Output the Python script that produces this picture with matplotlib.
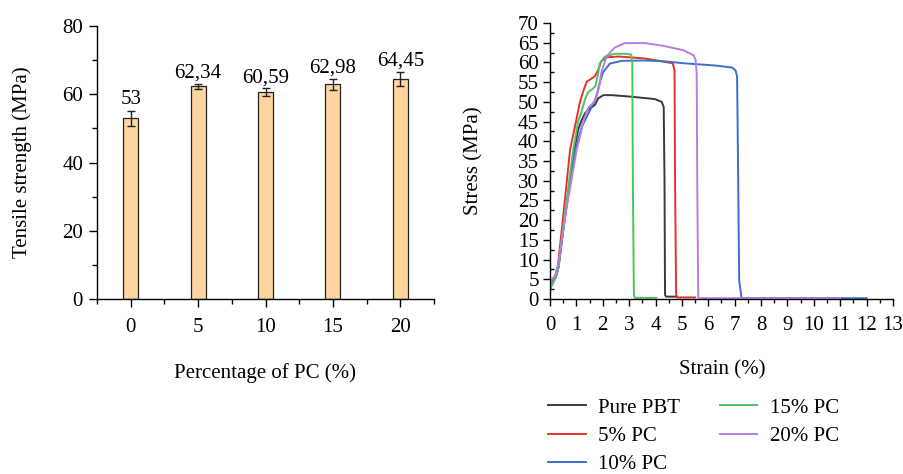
import matplotlib
matplotlib.use("Agg")
import matplotlib.pyplot as plt
from matplotlib.ticker import MultipleLocator

plt.rcParams['font.family'] = ['Liberation Serif', 'DejaVu Serif']

# ---------------- data: left bar chart ----------------
pc_levels = [0, 5, 10, 15, 20]
tensile = [53, 62.34, 60.59, 62.98, 64.45]
tensile_err = [2.2, 0.8, 1.1, 1.6, 2.0]
bar_labels = ["53", "62,34", "60,59", "62,98", "64,45"]

# ---------------- data: right stress-strain curves ----------------
series_names = ["Pure PBT", "5% PC", "10% PC", "15% PC", "20% PC"]
series_colors = ["#3a3a3a", "#e8302a", "#3d6fcc", "#4dc261", "#b77ee0"]

strain_pbt = [0, 0.08, 0.22, 0.32, 0.55, 0.9, 1.07, 1.2, 1.33, 1.45, 1.6, 1.7, 1.83, 2.02, 2.34,
              3.09, 3.98, 4.23, 4.31, 4.34, 4.36, 4.4, 4.8]
stress_pbt = [2.5, 4, 5.5, 8, 20, 37, 43, 45.4, 47.1, 48.1, 48.7, 49.2, 50.9, 51.7, 51.7,
              51.3, 50.7, 50.0, 48.7, 30, 1, 0.6, 0.6]

strain_pc5 = [0, 0.05, 0.2, 0.3, 0.5, 0.76, 1.0, 1.12, 1.25, 1.39, 1.55, 1.7, 1.83, 1.93, 2.15,
              2.6, 3.6, 4.3, 4.65, 4.72, 4.74, 4.78, 4.82, 5.5]
stress_pc5 = [2.0, 4.5, 6.0, 8.5, 21, 37.8, 45.5, 49.5, 52.5, 55.1, 55.8, 56.5, 58.1, 60.2, 61.3,
              61.5, 61.0, 60.2, 59.8, 58, 30, 1, 0.4, 0.4]

strain_pc10 = [0, 0.08, 0.22, 0.32, 0.55, 0.95, 1.2, 1.45, 1.7, 1.8, 1.89, 2.02, 2.27, 2.72, 3.6,
               4.3, 5.05, 6.3, 6.9, 7.03, 7.09, 7.11, 7.17, 7.26, 12.0]
stress_pc10 = [2.5, 4, 5.5, 8, 20, 37.5, 43.6, 47, 50.3, 52.5, 55.0, 57.6, 59.7, 60.4, 60.5,
               60.3, 59.8, 59.2, 58.7, 58.0, 56.5, 45, 4.8, 0.2, 0.2]

strain_pc15 = [0, 0.1, 0.22, 0.32, 0.55, 0.88, 1.07, 1.2, 1.32, 1.45, 1.6, 1.72, 1.8, 1.89, 2.08,
               2.46, 2.84, 3.08, 3.12, 3.14, 3.18, 3.22, 4.04]
stress_pc15 = [2.5, 3.8, 5.5, 8, 21, 37.8, 45.1, 47.6, 50.5, 52.5, 53.2, 54.0, 56.4, 59.8, 61.5,
               62.2, 62.2, 62.0, 60, 30, 1, 0.3, 0.3]

strain_pc20 = [0, 0.05, 0.2, 0.32, 0.6, 1.01, 1.15, 1.26, 1.45, 1.6, 1.7, 1.78, 1.85, 1.96, 2.15,
               2.46, 2.84, 3.6, 4.3, 5.05, 5.45, 5.52, 5.56, 5.58, 5.62, 11.0]
stress_pc20 = [1.5, 4.8, 5.7, 9, 22, 37.8, 41.5, 45, 48.5, 49.5, 50.2, 51.5, 53.5, 57.8, 61.6,
               63.8, 64.9, 64.9, 64.2, 63.1, 61.8, 60.5, 57, 30, 0.2, 0.2]

strains = [strain_pbt, strain_pc5, strain_pc10, strain_pc15, strain_pc20]
stresses = [stress_pbt, stress_pc5, stress_pc10, stress_pc15, stress_pc20]

# ---------------- figure ----------------
W, H = 904, 474
fig = plt.figure(figsize=(W / 100, H / 100), dpi=100)

FS = 15

def fx(px):
    return px / W

def fy(py):
    return 1 - py / H

# left axes
ax1 = fig.add_axes([fx(97), fy(299), fx(434) - fx(97), fy(26) - fy(299)])
ax1.bar(pc_levels, tensile, width=1.1, color="#fdd5a0", edgecolor="#222222", linewidth=0.9,
        zorder=2)
ax1.errorbar(pc_levels, tensile, yerr=tensile_err, fmt="none", ecolor="#222222", elinewidth=1.0,
             capsize=3, capthick=1.0, zorder=3)
for x, v, e, lab in zip(pc_levels, tensile, tensile_err, bar_labels):
    ax1.annotate(lab, (x, v + e), xytext=(0, 1), textcoords="offset points",
                 ha="center", va="bottom", fontsize=FS)
ax1.set_xlim(-2.5, 22.5)
ax1.set_ylim(0, 80)
ax1.xaxis.set_major_locator(MultipleLocator(5))
ax1.xaxis.set_minor_locator(MultipleLocator(2.5))
ax1.yaxis.set_major_locator(MultipleLocator(20))
ax1.yaxis.set_minor_locator(MultipleLocator(10))
for s in ["top", "right"]:
    ax1.spines[s].set_visible(False)
for s in ["left", "bottom"]:
    ax1.spines[s].set_linewidth(1.0)
ax1.tick_params(axis="both", which="major", direction="out", length=6, width=1.0,
                labelsize=FS)
ax1.tick_params(axis="both", which="minor", direction="out", length=3.5, width=1.0)
ax1.tick_params(axis="x", which="major", pad=8)
ax1.tick_params(axis="y", which="major", pad=4)
ax1.set_xlabel("Percentage of PC (%)", fontsize=FS)
ax1.set_ylabel("Tensile strength (MPa)", fontsize=FS)
ax1.xaxis.set_label_coords(0.4985, -0.271)
ax1.xaxis.label.set_va("center")
ax1.yaxis.set_label_coords(-0.2226, 0.5)
ax1.yaxis.label.set_va("center")

# right axes
ax2 = fig.add_axes([fx(550), fy(299), fx(893) - fx(550), fy(23) - fy(299)])
lines = []
for xs, ys, name, col in zip(strains, stresses, series_names, series_colors):
    ln, = ax2.plot(xs, ys, color=col, linewidth=1.4, label=name, solid_joinstyle="round")
    lines.append(ln)
ax2.set_xlim(0, 13)
ax2.set_ylim(0, 70)
ax2.xaxis.set_major_locator(MultipleLocator(1))
ax2.xaxis.set_minor_locator(MultipleLocator(0.5))
ax2.yaxis.set_major_locator(MultipleLocator(5))
ax2.yaxis.set_minor_locator(MultipleLocator(2.5))
for s in ["top", "right"]:
    ax2.spines[s].set_visible(False)
for s in ["left", "bottom"]:
    ax2.spines[s].set_linewidth(1.0)
ax2.tick_params(axis="both", which="major", direction="out", length=5, width=1.0, labelsize=FS)
ax2.tick_params(axis="x", which="minor", direction="out", length=3, width=1.0)
ax2.tick_params(axis="y", which="minor", direction="in", length=3, width=1.0)
ax2.tick_params(axis="x", which="major", pad=7)
ax2.tick_params(axis="y", which="major", pad=3)
ax2.set_xlabel("Strain (%)", fontsize=FS)
ax2.set_ylabel("Stress (MPa)", fontsize=FS)
ax2.xaxis.set_label_coords(0.501, -0.257)
ax2.xaxis.label.set_va("center")
ax2.yaxis.set_label_coords(-0.2216, 0.5)
ax2.yaxis.label.set_va("center")

leg = fig.legend(handles=lines, labels=series_names, loc="upper left",
                 bbox_to_anchor=(fx(548), fy(398)), ncol=2, frameon=False,
                 fontsize=FS, handlelength=1.8, handletextpad=0.6, columnspacing=1.9,
                 labelspacing=0.42, borderpad=0, borderaxespad=0)

fig.savefig("out.png", dpi=100)
